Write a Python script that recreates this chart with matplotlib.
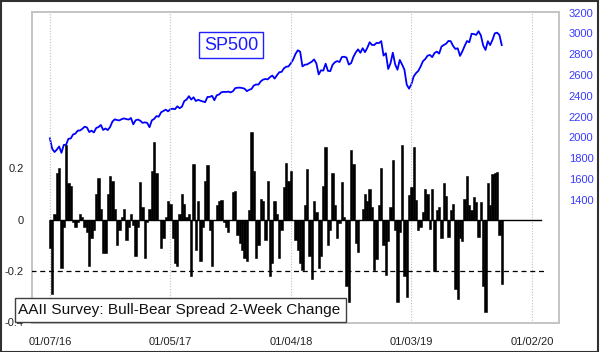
import matplotlib
matplotlib.use("Agg")
import matplotlib.pyplot as plt
import matplotlib.dates as mdates
from matplotlib.patches import Rectangle
import pandas as pd

# weekly AAII bull-bear spread, 2-week change
spread_chg = [
    -0.11, -0.29, 0.02, 0.18, 0.20, -0.19, -0.03, 0.29, 0.14, 0.13,
    -0.01, -0.03, -0.01, 0.02, 0.01, -0.03, -0.05, -0.18, -0.07, -0.04,
    0.10, 0.16, 0.04, -0.13, -0.13, 0.10, 0.17, 0.15, 0.04, -0.10,
    -0.04, 0.01,
    0.04, -0.08, -0.03, 0.02, -0.02, -0.14, -0.03, 0.145, 0.05, -0.15,
    -0.01, 0.04, 0.19, 0.30, 0.18, 0.0, -0.11, -0.07, 0.01, 0.07,
    0.06, -0.07, -0.17, -0.18, 0.02, 0.10, 0.06, 0.01, 0.02, -0.22,
    0.215, -0.12, 0.07,
    -0.16, -0.03, 0.15, 0.21, -0.04, -0.18, 0.0, 0.055, 0.07, 0.075,
    -0.01, -0.03, -0.05, 0.0, 0.105, 0.11, -0.06, -0.09, -0.12, -0.15,
    -0.16, 0.036, 0.34, 0.19, -0.15, -0.10, 0.08, 0.07, -0.08, 0.15,
    -0.22, -0.17, 0.07, 0.02,
    -0.15, -0.04, 0.125, 0.22, 0.15, 0.19, 0.0, -0.08, -0.12, -0.17,
    -0.195, 0.055, 0.196, -0.14, -0.23, 0.07, 0.03, -0.19, -0.14, 0.13,
    0.28, -0.10, -0.04, 0.18, 0.055, -0.07, -0.015, 0.145, 0.01, -0.26,
    -0.32, 0.27, 0.215, -0.09,
    -0.125, 0.0, 0.04, 0.10, 0.07, 0.12, 0.05, -0.195, -0.155, 0.055, 0.20,
    -0.10, -0.215, -0.085, 0.05, 0.23, -0.04, -0.32, -0.047, 0.29, -0.22,
    -0.30, 0.095, 0.125, 0.28, 0.075, -0.04, -0.03, 0.03, 0.12, 0.10, -0.035,
    0.12, -0.2,
    0.035, 0.05, -0.07, 0.14, 0.09, -0.067, 0.036, 0.06, -0.27, -0.31,
    -0.07, -0.085, 0.08, 0.17, 0.055, 0.036, 0.087, 0.068, -0.067, 0.068,
    -0.26, -0.36, 0.14, 0.055, 0.177, 0.18, 0.183, -0.06, -0.25,
]

sp500 = [
    1990, 1890, 1859, 1882, 1912, 1851, 1927, 1929, 1986, 1989,
    2027, 2036, 2064, 2066, 2082, 2102, 2095, 2051, 2064, 2047,
    2090, 2099, 2119, 2071, 2085, 2070, 2100, 2152, 2173, 2166,
    2163, 2175, 2182, 2175, 2171, 2186, 2125, 2164, 2171, 2160,
    2139, 2144, 2139, 2097, 2163, 2177, 2204, 2199, 2241, 2253,
    2266, 2250,
    2271, 2275, 2271, 2298, 2280, 2295, 2349, 2363, 2396, 2363,
    2385, 2349, 2361, 2352, 2345, 2338, 2388, 2389, 2399, 2357,
    2404, 2412, 2433, 2437, 2436, 2440, 2432, 2443, 2473, 2477,
    2478, 2474, 2468, 2444, 2457, 2465, 2498, 2508, 2507, 2538,
    2555, 2561, 2557, 2579, 2594, 2565, 2597, 2626, 2629, 2663,
    2679, 2682,
    2713, 2748, 2802, 2837, 2824, 2682, 2698, 2701, 2714, 2727,
    2749, 2711, 2605, 2644, 2642, 2708, 2639, 2636, 2697, 2722,
    2733, 2724, 2772, 2775, 2767, 2700, 2713, 2774, 2816, 2846,
    2813, 2857, 2819, 2861, 2914, 2888, 2888, 2908, 2906, 2925,
    2786, 2809, 2657, 2712, 2814, 2702, 2650, 2744, 2700, 2651,
    2507, 2468,
    2510, 2585, 2617, 2639, 2681, 2732, 2753, 2785, 2792, 2771,
    2811, 2824, 2805, 2873, 2888, 2900, 2927, 2924, 2879, 2850,
    2856, 2783, 2826, 2879, 2926, 2914, 2996, 2993, 2985, 3020,
    2980, 2883, 2840, 2924, 2887, 2937, 3000, 3006, 2984, 2887,
]

tick_dates = ["2016-01-07", "2017-01-05", "2018-01-04", "2019-01-03", "2020-01-02"]
left_ticks = [0.2, 0, -0.2, -0.4]
left_labels = ["0.2", "0", "-0.2", "-0.4"]
right_ticks = [1400, 1600, 1800, 2000, 2200, 2400, 2600, 2800, 3000, 3200]

dates = pd.date_range("2016-01-07", periods=len(sp500), freq="7D")
bar_dates = dates[:len(spread_chg)]

plt.rcParams["font.family"] = ["Liberation Sans", "DejaVu Sans"]

fig = plt.figure(figsize=(6.0, 3.52), dpi=100)
ax = fig.add_axes([32 / 600, 29 / 352, 527 / 600, 311 / 352])
ax2 = ax.twinx()
ax.set_zorder(ax2.get_zorder() + 1)
ax.patch.set_visible(False)

ax.bar(bar_dates, spread_chg, width=7, color="black", edgecolor="black",
       linewidth=0.4, zorder=3)
ax.plot([bar_dates[0], pd.Timestamp("2020-01-29")], [0, 0], color="black", lw=1.0, zorder=4)
ax.plot([pd.Timestamp("2015-11-10"), pd.Timestamp("2020-02-07")], [-0.2, -0.2],
        color="black", lw=0.9, ls=(0, (4, 3)), zorder=4)

ax2.plot(dates, sp500, color="#0000ff", lw=1.3)

ax.set_xlim(pd.Timestamp("2015-11-14"), pd.Timestamp("2020-03-24"))
ax.set_ylim(-0.402, 0.806)
ax2.set_ylim(215, 3205)

xt = [pd.Timestamp(d) for d in tick_dates]
ax.set_xticks(xt)
ax.xaxis.set_major_formatter(mdates.DateFormatter("%m/%d/%y"))
ax.set_yticks(left_ticks)
ax.set_yticklabels(left_labels)
ax2.set_yticks(right_ticks)
ax2.set_yticklabels([str(v) for v in right_ticks])

ax.tick_params(axis="x", length=0, pad=10, labelsize=8, labelcolor="#222222")
ax.tick_params(axis="y", length=0, pad=6, labelsize=8, labelcolor="#222222")
ax2.tick_params(axis="y", length=0, pad=7, labelsize=8, labelcolor="#3a3aff")

for x in xt:
    ax.axvline(x, color="#c0c0c0", lw=0.8, ls=(0, (1, 1.5)), zorder=1)

for a in (ax, ax2):
    for s in a.spines.values():
        s.set_color("#c4c4c4")
        s.set_linewidth(1.2)

# figure border
fig.patches.append(Rectangle((0.5 / 600, 0.5 / 352), 597.5 / 600, 350.5 / 352,
                             transform=fig.transFigure, fill=False,
                             edgecolor="#303030", lw=1.5, zorder=0))

# caption box
fig.patches.append(Rectangle((15 / 600, (352 - 322) / 352), 331 / 600, 24 / 352,
                             transform=fig.transFigure, facecolor="white",
                             edgecolor="#404040", lw=1.0, zorder=5))
fig.text(18 / 600, (352 - 310) / 352, "AAII Survey: Bull-Bear Spread 2-Week Change",
         fontsize=11.1, color="#111111", va="center", ha="left", zorder=6)

# SP500 label
fig.patches.append(Rectangle((199 / 600, (352 - 58) / 352), 64 / 600, 26 / 352,
                             transform=fig.transFigure, facecolor="white",
                             edgecolor="#2020ff", lw=1.0, zorder=5))
fig.text(231 / 600, (352 - 45) / 352, "SP500", fontsize=13, color="#1a1aff",
         va="center", ha="center", zorder=6)

fig.savefig("out.png", dpi=100)
